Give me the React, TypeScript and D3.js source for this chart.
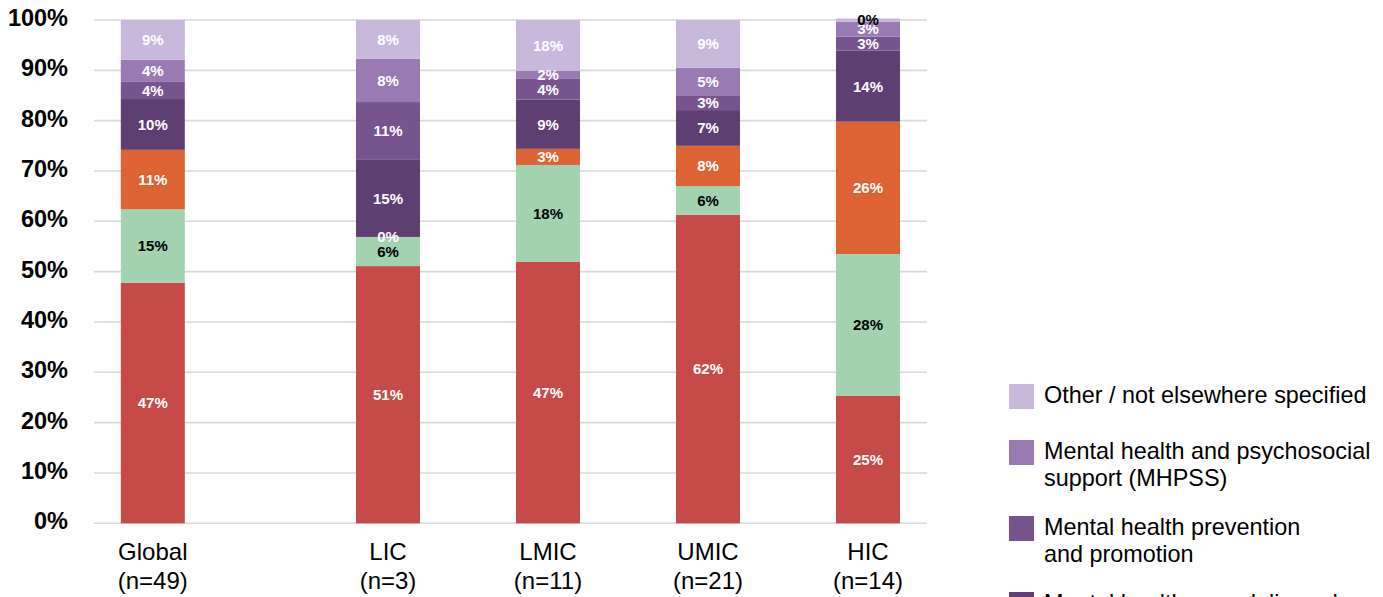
import React from "react";
import * as d3 from "d3";

// ---- Data ----
const categories = ["Global", "LIC", "LMIC", "UMIC", "HIC"];
const categoryN = ["(n=49)", "(n=3)", "(n=11)", "(n=21)", "(n=14)"];

// Series from bottom of stack to top
const seriesNames = [
  "Mental health care delivered in specialist settings",
  "Mental health care delivered in general health settings",
  "Mental health care delivered in community settings",
  "Mental health care delivered (other)",
  "Mental health prevention and promotion",
  "Mental health and psychosocial support (MHPSS)",
  "Other / not elsewhere specified",
];
const seriesColors = ["#C64A47", "#A3D2B0", "#DD6234", "#5F3E72", "#78548F", "#9A7AB2", "#C8B8DB"];

// Segment sizes (% of bar) per series, in category order
const specialist = [47.8, 51.1, 52.0, 61.3, 25.3];
const generalHealth = [14.6, 5.8, 19.2, 5.7, 28.2];
const community = [11.8, 0, 3.2, 8.0, 26.3];
const careOther = [10.1, 15.3, 9.8, 7.1, 14.1];
const prevention = [3.4, 11.5, 4.1, 2.8, 2.8];
const mhpss = [4.4, 8.6, 1.6, 5.6, 3.0];
const otherNes = [7.9, 7.7, 10.1, 9.5, 0.6];
const seriesValues = [specialist, generalHealth, community, careOther, prevention, mhpss, otherNes];

// Data labels printed on the segments
const specialistLabels = [47, 51, 47, 62, 25];
const generalHealthLabels = [15, 6, 18, 6, 28];
const communityLabels = [11, 0, 3, 8, 26];
const careOtherLabels = [10, 15, 9, 7, 14];
const preventionLabels = [4, 11, 4, 3, 3];
const mhpssLabels = [4, 8, 2, 5, 3];
const otherNesLabels = [9, 8, 18, 9, 0];
const seriesLabels = [
  specialistLabels,
  generalHealthLabels,
  communityLabels,
  careOtherLabels,
  preventionLabels,
  mhpssLabels,
  otherNesLabels,
];

const yTicks = [0, 10, 20, 30, 40, 50, 60, 70, 80, 90, 100];

// Legend entries (top to bottom), with line breaks
const legendOrder = [6, 5, 4, 3, 2, 1, 0];
const legendLines: string[][] = [
  ["Other / not elsewhere specified"],
  ["Mental health and psychosocial", "support (MHPSS)"],
  ["Mental health prevention", "and promotion"],
  ["Mental health care delivered", "in community settings"],
  ["Mental health care delivered", "in general health settings"],
  ["Mental health care delivered", "in specialist settings"],
  ["Mental health systems"],
];

const FONT = "'Liberation Sans', Arial, Helvetica, sans-serif";

export default function App() {
  const W = 1383;
  const H = 597;
  const gridX0 = 94;
  const gridX1 = 927;
  const barW = 64;

  const y = d3.scaleLinear().domain([0, 100]).range([523.3, 20]);
  // Income groups are evenly spaced; Global sits apart on the left
  const xGroups = d3.scalePoint<string>().domain(categories.slice(1)).range([388, 868]);
  const groupStep = xGroups.step();
  const xCenter = (c: string) => (c === "Global" ? (xGroups("LIC") as number) - groupStep * 1.47 : (xGroups(c) as number));

  const rows = categories.map((c, ci) => {
    const r: any = { cat: c };
    seriesValues.forEach((vals, si) => (r["s" + si] = vals[ci]));
    return r;
  });
  const keys = seriesValues.map((_, si) => "s" + si);
  const stacked = d3.stack<any>().keys(keys)(rows);

  const darkLabel = (si: number, ci: number) =>
    si === 1 || (si === 6 && categories[ci] === "HIC");

  // legend layout
  const legendTops: number[] = [];
  let t = 384;
  legendLines.forEach((lines) => {
    legendTops.push(t);
    t += Math.max(56, lines.length * 27.5 + 21);
  });

  return (
    <div style={{ position: "absolute", left: 0, top: 0, width: W, height: H, overflow: "hidden", background: "#fff" }}>
      <svg width={W} height={H} style={{ display: "block" }} fontFamily={FONT}>
        <rect x={0} y={0} width={W} height={H} fill="#fff" />
        {/* gridlines */}
        {yTicks.map((tk) => (
          <line key={"g" + tk} x1={gridX0} x2={gridX1} y1={y(tk)} y2={y(tk)} stroke="#D9D9D9" strokeWidth={1.6} />
        ))}
        {/* y tick labels */}
        {yTicks.map((tk) => (
          <text key={"yt" + tk} x={68} y={y(tk) + 6} textAnchor="end" fontSize={23.5} fontWeight="bold" fill="#000">
            {tk + "%"}
          </text>
        ))}
        {/* bars */}
        {stacked.map((layer, si) =>
          layer.map((d, ci) => (
            <rect
              key={"r" + si + "-" + ci}
              x={xCenter(categories[ci]) - barW / 2}
              y={y(d[1])}
              width={barW}
              height={Math.max(0, y(d[0]) - y(d[1]))}
              fill={seriesColors[si]}
            />
          ))
        )}
        {/* data labels */}
        {stacked.map((layer, si) =>
          layer.map((d, ci) => (
            <text
              key={"l" + si + "-" + ci}
              x={xCenter(categories[ci])}
              y={(y(d[0]) + y(d[1])) / 2}
              dy="0.36em"
              textAnchor="middle"
              fontSize={15}
              fontWeight="bold"
              fill={darkLabel(si, ci) ? "#000" : "#fff"}
            >
              {seriesLabels[si][ci] + "%"}
            </text>
          ))
        )}
        {/* x labels */}
        {categories.map((c, ci) => (
          <g key={"x" + c}>
            <text x={xCenter(c)} y={560} textAnchor="middle" fontSize={24} fill="#000">
              {c}
            </text>
            <text x={xCenter(c)} y={589} textAnchor="middle" fontSize={24} fill="#000">
              {categoryN[ci]}
            </text>
          </g>
        ))}
        {/* legend */}
        {legendOrder.map((si, li) => (
          <g key={"lg" + si}>
            <rect x={1009} y={legendTops[li]} width={25} height={25} fill={seriesColors[si]} />
            {legendLines[li].map((ln, k) => (
              <text key={k} x={1044} y={legendTops[li] + 18.5 + k * 27.5} fontSize={23.4} fill="#000">
                {ln}
              </text>
            ))}
          </g>
        ))}
      </svg>
    </div>
  );
}
